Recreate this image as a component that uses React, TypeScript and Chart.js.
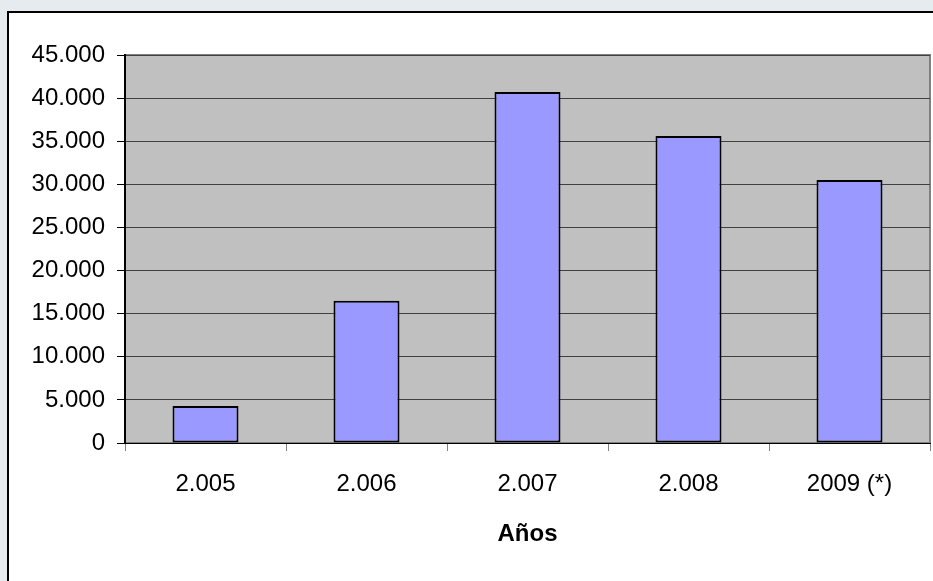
import React, { useEffect, useRef } from "react";
import { Chart, registerables } from "chart.js";

Chart.register(...registerables);

const categories = ["2.005", "2.006", "2.007", "2.008", "2009 (*)"];
const values = [4300, 16500, 40700, 35600, 30500];
const yTicks = [0, 5000, 10000, 15000, 20000, 25000, 30000, 35000, 40000, 45000];
const xTitle = "Años";

const fmt = (v: number) => {
  const s = Math.round(v).toString();
  return s.replace(/\B(?=(\d{3})+(?!\d))/g, ".");
};

const bgPlugin = {
  id: "bgPlugin",
  beforeDraw(chart: any) {
    const { ctx, chartArea } = chart;
    ctx.save();
    ctx.fillStyle = "#E6EBF0";
    ctx.fillRect(0, 0, chart.width, chart.height);
    ctx.fillStyle = "#FFFFFF";
    ctx.fillRect(8, 12, chart.width, chart.height);
    ctx.strokeStyle = "#000000";
    ctx.lineWidth = 2;
    ctx.beginPath();
    ctx.moveTo(8, chart.height + 5);
    ctx.lineTo(8, 12);
    ctx.lineTo(chart.width + 5, 12);
    ctx.stroke();
    ctx.fillStyle = "#C0C0C0";
    ctx.fillRect(chartArea.left, chartArea.top, chartArea.right - chartArea.left, chartArea.bottom - chartArea.top);
    ctx.strokeStyle = "#808080";
    ctx.lineWidth = 2;
    ctx.strokeRect(chartArea.left, chartArea.top, chartArea.right - chartArea.left, chartArea.bottom - chartArea.top);
    ctx.restore();
  },
};

export default function App() {
  const ref = useRef<HTMLCanvasElement>(null);
  useEffect(() => {
    if (!ref.current) return;
    const chart = new Chart(ref.current, {
      type: "bar",
      data: {
        labels: categories,
        datasets: [
          {
            data: values,
            backgroundColor: "#9999FF",
            borderColor: "#000000",
            borderWidth: 2,
            borderSkipped: false,
            barPercentage: 0.82,
            categoryPercentage: 0.5,
          },
        ],
      },
      options: {
        animation: false,
        responsive: false,
        layout: { padding: { top: 55, right: 3, left: 0, bottom: 0 } },
        plugins: { legend: { display: false }, tooltip: { enabled: false } },
        scales: {
          x: {
            grid: {
              offset: true,
              drawOnChartArea: false,
              drawTicks: true,
              tickLength: 8,
              color: "#808080",
              lineWidth: 1,
            },
            border: { display: true, color: "#000000", width: 1 },
            ticks: {
              color: "#000000",
              font: { family: "Liberation Sans, Arial", size: 24 },
              padding: 19,
            },
            title: {
              display: true,
              text: xTitle,
              color: "#000000",
              font: { family: "Liberation Sans, Arial", size: 24, weight: "bold" },
              padding: { top: 0, bottom: 32 },
            },
            afterFit: (s: any) => {
              s.height = 138;
            },
          },
          y: {
            min: 0,
            max: 45000,
            afterBuildTicks: (s: any) => {
              s.ticks = yTicks.map((v) => ({ value: v }));
            },
            grid: {
              color: "#404040",
              lineWidth: 1,
              tickLength: 8,
              tickColor: "#000000",
            },
            border: { display: true, color: "#000000", width: 2 },
            ticks: {
              color: "#000000",
              font: { family: "Liberation Sans, Arial", size: 24 },
              padding: 12,
              callback: (v: any) => fmt(Number(v)),
            },
            afterFit: (s: any) => {
              s.width = 125;
            },
          },
        },
      },
      plugins: [bgPlugin],
    });
    return () => chart.destroy();
  }, []);
  return (
    <div style={{ position: "absolute", left: 0, top: 0, width: 933, height: 581 }}>
      <canvas ref={ref} width={933} height={581} style={{ display: "block" }} />
    </div>
  );
}
